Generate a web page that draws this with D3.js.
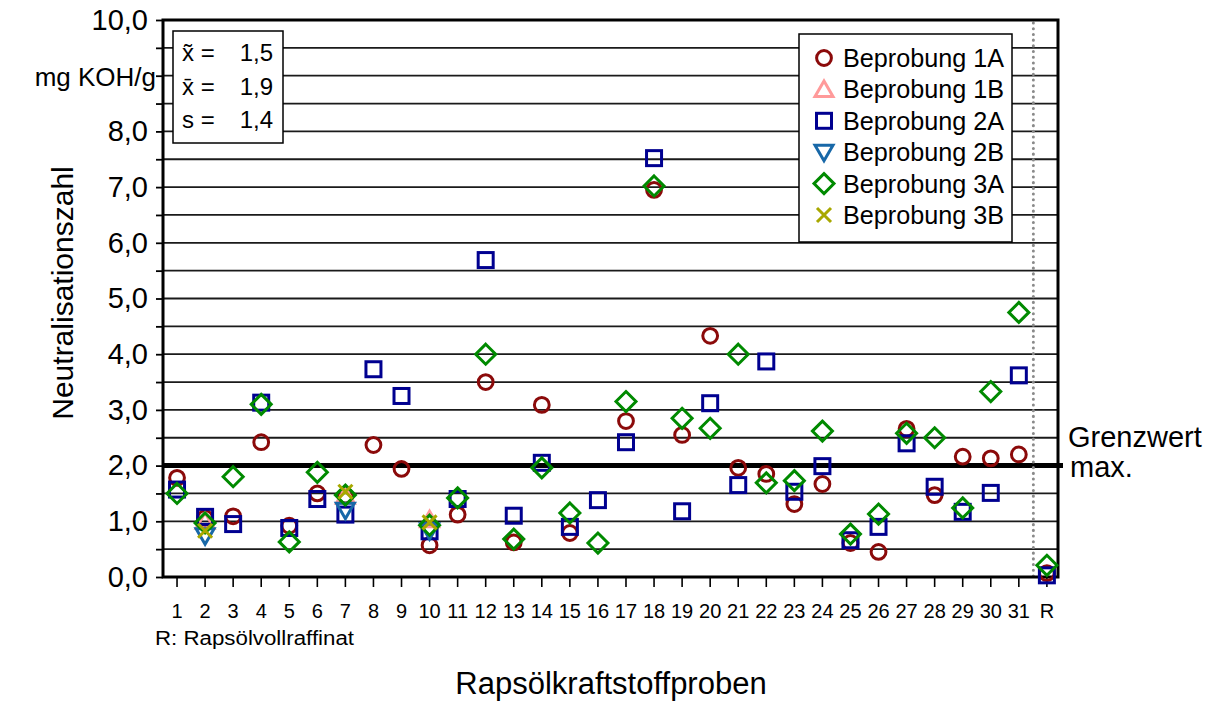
<!DOCTYPE html>
<html lang="de">
  <head>
    <meta charset="UTF-8" />
    <title>Neutralisationszahl Rapsölkraftstoffproben</title>
    <script src="https://d3js.org/d3.v7.min.js"></script>
    <style>
      body {
        margin: 0;
        background: #fff;
        font-family: "Liberation Sans", Arial, sans-serif;
      }
      text {
        fill: #000;
      }
    </style>
  </head>
  <body>
    <script>
      // Proben 1..31 plus Raffinat R
      var categories = [
        "1", "2", "3", "4", "5", "6", "7", "8", "9", "10",
        "11", "12", "13", "14", "15", "16", "17", "18", "19", "20",
        "21", "22", "23", "24", "25", "26", "27", "28", "29", "30",
        "31", "R",
      ];

      var b1A = [
        1.78, 1.06, 1.09, 2.42, 0.92, 1.5, 1.46, 2.37, 1.94, 0.57,
        1.12, 3.5, 0.62, 3.09, 0.79, null, 2.8, 6.95, 2.55, 4.33,
        1.96, 1.85, 1.31, 1.67, 0.61, 0.45, 2.66, 1.47, 2.16, 2.13,
        2.2, 0.07,
      ];
      var b2A = [
        1.57, 1.08, 0.95, 3.13, 0.88, 1.4, 1.12, 3.73, 3.25, 0.82,
        1.4, 5.69, 1.1, 2.05, 0.9, 1.38, 2.42, 7.52, 1.18, 3.12,
        1.65, 3.87, 1.53, 1.99, 0.66, 0.9, 2.4, 1.62, 1.17, 1.51,
        3.62, 0.03,
      ];
      var b3A = [
        1.5, 0.97, 1.8, 3.1, 0.63, 1.88, 1.47, null, null, 0.93,
        1.42, 4.0, 0.68, 1.96, 1.15, 0.61, 3.15, 7.02, 2.85, 2.67,
        4.0, 1.69, 1.73, 2.62, 0.77, 1.13, 2.58, 2.5, 1.24, 3.33,
        4.75, 0.21,
      ];
      // B-Proben nur bei 2, 7 und 10
      var bCats = ["2", "7", "10"];
      var b1B = [1.0, 1.45, 1.03];
      var b2B = [0.74, 1.2, 0.83];
      var b3B = [0.83, 1.53, 0.98];

      var yTicks = [0, 0.5, 1, 1.5, 2, 2.5, 3, 3.5, 4, 4.5, 5, 5.5, 6, 6.5, 7, 7.5, 8, 8.5, 9, 9.5, 10];
      var grenzwert = 2.0;
      var stats = [
        ["x\u0303 =", "1,5"],
        ["x\u0304 =", "1,9"],
        ["s =", "1,4"],
      ];

      var width = 1216,
        height = 701;
      var plot = { left: 163, right: 1058, top: 20, bottom: 577 };

      var svg = d3
        .select("body")
        .append("svg")
        .attr("width", width)
        .attr("height", height);

      var x = d3
        .scaleBand()
        .domain(categories)
        .range([plot.left, plot.left + 28.06 * categories.length]);
      var y = d3.scaleLinear().domain([0, 10]).range([plot.bottom, plot.top]);

      // grid lines every 0.5
      svg
        .append("g")
        .selectAll("line")
        .data(yTicks.filter(function (d) { return d > 0 && d < 10; }))
        .enter()
        .append("line")
        .attr("x1", plot.left)
        .attr("x2", plot.right)
        .attr("y1", function (d) { return y(d); })
        .attr("y2", function (d) { return y(d); })
        .attr("stroke", "#1a1a1a")
        .attr("stroke-width", 1.8);

      // Grenzwert
      svg
        .append("line")
        .attr("x1", plot.left)
        .attr("x2", plot.right + 5)
        .attr("y1", y(grenzwert))
        .attr("y2", y(grenzwert))
        .attr("stroke", "#000")
        .attr("stroke-width", 5);

      // dotted separator before R
      var sepX = (x("31") + x.bandwidth() + x("R")) / 2 + 0.5;
      svg
        .append("line")
        .attr("x1", sepX)
        .attr("x2", sepX)
        .attr("y1", plot.top + 3)
        .attr("y2", plot.bottom)
        .attr("stroke", "#8a8a8a")
        .attr("stroke-width", 3)
        .attr("stroke-linecap", "round")
        .attr("stroke-dasharray", "0.1,5.6");

      // frame
      svg
        .append("path")
        .attr(
          "d",
          "M" + plot.left + "," + plot.top + "H" + plot.right + "V" + plot.bottom +
            "H" + plot.left + "Z"
        )
        .attr("fill", "none")
        .attr("stroke", "#000")
        .attr("stroke-width", 3);

      // y axis
      var yAxis = svg
        .append("g")
        .attr("transform", "translate(" + plot.left + ",0)")
        .call(
          d3
            .axisLeft(y)
            .tickValues(yTicks)
            .tickSize(7)
            .tickPadding(8)
            .tickFormat(function (d) {
              if (d % 1 !== 0 || d === 9) return "";
              return d.toFixed(1).replace(".", ",");
            })
        );
      yAxis.select(".domain").remove();
      yAxis.selectAll("line").attr("stroke", "#000").attr("stroke-width", 1.8);
      yAxis
        .selectAll("text")
        .attr("font-size", 29)
        .attr("font-family", "Liberation Sans, Arial, sans-serif")
        .attr("fill", "#000");

      svg
        .append("text")
        .attr("x", 156)
        .attr("y", y(9) + 10)
        .attr("text-anchor", "end")
        .attr("font-size", 26)
        .text("mg KOH/g");

      // x axis
      var xAxis = svg
        .append("g")
        .attr("transform", "translate(0," + plot.bottom + ")")
        .call(d3.axisBottom(x).tickSize(10).tickPadding(17));
      xAxis.select(".domain").remove();
      xAxis.selectAll("line").attr("stroke", "#000").attr("stroke-width", 1.6);
      xAxis
        .selectAll("text")
        .attr("font-size", 20)
        .attr("font-family", "Liberation Sans, Arial, sans-serif")
        .attr("fill", "#000");

      // axis titles
      svg
        .append("text")
        .attr("transform", "translate(73,293) rotate(-90)")
        .attr("text-anchor", "middle")
        .attr("font-size", 30)
        .text("Neutralisationszahl");

      svg
        .append("text")
        .attr("x", 611)
        .attr("y", 694)
        .attr("text-anchor", "middle")
        .attr("font-size", 31)
        .text("Rapsölkraftstoffproben");

      svg
        .append("text")
        .attr("x", 155)
        .attr("y", 645)
        .attr("font-size", 20)
        .attr("textLength", 199)
        .attr("lengthAdjust", "spacingAndGlyphs")
        .text("R: Rapsölvollraffinat");

      svg
        .append("text")
        .attr("x", 1068)
        .attr("y", y(grenzwert) - 19)
        .attr("font-size", 29)
        .text("Grenzwert");
      svg
        .append("text")
        .attr("x", 1070)
        .attr("y", y(grenzwert) + 11)
        .attr("font-size", 29)
        .text("max.");

      // marker shapes
      var shapes = {
        circle: function (g) {
          return g.append("circle").attr("r", 7.4);
        },
        triUp: function (g) {
          return g.append("path").attr("d", "M0,-8.5L9,7L-9,7Z");
        },
        square: function (g) {
          return g.append("rect").attr("x", -7.5).attr("y", -7.5).attr("width", 15).attr("height", 15);
        },
        triDown: function (g) {
          return g.append("path").attr("d", "M0,8.5L9,-7L-9,-7Z");
        },
        diamond: function (g) {
          return g.append("path").attr("d", "M0,-10L10,0L0,10L-10,0Z");
        },
        cross: function (g) {
          return g.append("path").attr("d", "M-7,-7L7,7M-7,7L7,-7");
        },
      };

      var series = [
        { name: "Beprobung 1A", cats: categories, values: b1A, shape: "circle", color: "#8b0a0a" },
        { name: "Beprobung 1B", cats: bCats, values: b1B, shape: "triUp", color: "#ff9a9a" },
        { name: "Beprobung 2A", cats: categories, values: b2A, shape: "square", color: "#000090" },
        { name: "Beprobung 2B", cats: bCats, values: b2B, shape: "triDown", color: "#1868a8" },
        { name: "Beprobung 3A", cats: categories, values: b3A, shape: "diamond", color: "#008a00" },
        { name: "Beprobung 3B", cats: bCats, values: b3B, shape: "cross", color: "#a8a800" },
      ];

      var cx = function (c) { return x(c) + x.bandwidth() / 2; };

      series.forEach(function (s) {
        var pts = s.values
          .map(function (v, i) { return { c: s.cats[i], v: v }; })
          .filter(function (d) { return d.v != null; });
        svg
          .append("g")
          .selectAll("g")
          .data(pts)
          .enter()
          .append("g")
          .attr("transform", function (d) {
            return "translate(" + cx(d.c) + "," + y(d.v) + ")";
          })
          .each(function () {
            shapes[s.shape](d3.select(this))
              .attr("fill", "none")
              .attr("stroke", s.color)
              .attr("stroke-width", 3);
          });
      });

      // stats box
      var sb = svg.append("g").attr("transform", "translate(173,31)");
      sb.append("rect")
        .attr("width", 110)
        .attr("height", 112)
        .attr("fill", "#fff")
        .attr("stroke", "#000")
        .attr("stroke-width", 1.5);
      stats.forEach(function (r, i) {
        sb.append("text")
          .attr("x", 9)
          .attr("y", 30 + i * 33.5)
          .attr("font-size", 24)
          .text(r[0]);
        sb.append("text")
          .attr("x", 100)
          .attr("y", 30 + i * 33.5)
          .attr("text-anchor", "end")
          .attr("font-size", 24)
          .text(r[1]);
      });

      // legend
      var lg = svg.append("g").attr("transform", "translate(799,34)");
      lg.append("rect")
        .attr("width", 213)
        .attr("height", 208)
        .attr("fill", "#fff")
        .attr("stroke", "#000")
        .attr("stroke-width", 1.5);
      series.forEach(function (s, i) {
        var row = lg.append("g").attr("transform", "translate(0," + (24 + i * 31.4) + ")");
        shapes[s.shape](row.append("g").attr("transform", "translate(25,0)"))
          .attr("fill", "none")
          .attr("stroke", s.color)
          .attr("stroke-width", 3);
        row.append("text")
          .attr("x", 44)
          .attr("y", 9)
          .attr("font-size", 25.2)
          .text(s.name);
      });
    </script>
  </body>
</html>
